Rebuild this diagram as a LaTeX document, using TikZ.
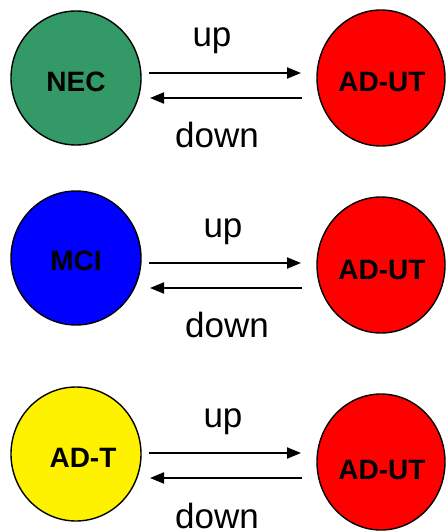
\documentclass[tikz,border=0pt]{standalone}
\usepackage{fontspec}
\setmainfont{Liberation Sans}
\usetikzlibrary{shapes.geometric,arrows.meta}
\definecolor{necgreen}{HTML}{339966}
\begin{document}
\begin{tikzpicture}[x=1pt,y=-1pt,
  leftstate/.style={ellipse,draw=black,line width=1.4pt,minimum width=130pt,minimum height=134pt,inner sep=0pt},
  rightstate/.style={ellipse,draw=black,line width=1.4pt,fill=red,minimum width=128pt,minimum height=136pt,inner sep=0pt},
  statelab/.style={font=\bfseries\fontsize{28}{30}\selectfont,inner sep=0pt,anchor=base},
  arrlab/.style={font=\fontsize{35}{38}\selectfont,inner sep=0pt,anchor=base},
  trans/.style={line width=2pt,-{Triangle[length=14pt,width=11pt]}}]
\useasboundingbox (0,0) rectangle (446,532);
% row 1
\node[leftstate,fill=necgreen] (nec) at (76,78) {};
\node[rightstate] (ut1) at (381,78) {};
\node[statelab] (necl) at (76,92) {NEC};
\node[statelab] (ut1l) at (382,92) {AD-UT};
\coordinate (a1s) at (149,73); \coordinate (a1e) at (301,73);
\coordinate (b1s) at (302,98); \coordinate (b1e) at (150,98);
\draw[trans] (a1s) -- (a1e);
\draw[trans] (b1s) -- (b1e);
\node[arrlab] (up1) at (212,47) {up};
\node[arrlab] (down1) at (217,147) {down};
% row 2
\node[leftstate,fill=blue] (mci) at (76,258) {};
\node[rightstate] (ut2) at (381,265) {};
\node[statelab] (mcil) at (76,270) {MCI};
\node[statelab] (ut2l) at (382,279) {AD-UT};
\coordinate (a2s) at (149,263); \coordinate (a2e) at (301,263);
\coordinate (b2s) at (302,288); \coordinate (b2e) at (150,288);
\draw[trans] (a2s) -- (a2e);
\draw[trans] (b2s) -- (b2e);
\node[arrlab] (up2) at (223,237) {up};
\node[arrlab] (down2) at (227,337) {down};
% row 3
\node[leftstate,fill=yellow] (adt) at (76,454) {};
\node[rightstate] (ut3) at (381,462) {};
\node[statelab] (adtl) at (83,467) {AD-T};
\node[statelab] (ut3l) at (382,479) {AD-UT};
\coordinate (a3s) at (149,453); \coordinate (a3e) at (301,453);
\coordinate (b3s) at (302,478); \coordinate (b3e) at (150,478);
\draw[trans] (a3s) -- (a3e);
\draw[trans] (b3s) -- (b3e);
\node[arrlab] (up3) at (223,427) {up};
\node[arrlab] (down3) at (217,528) {down};
\end{tikzpicture}
\end{document}
